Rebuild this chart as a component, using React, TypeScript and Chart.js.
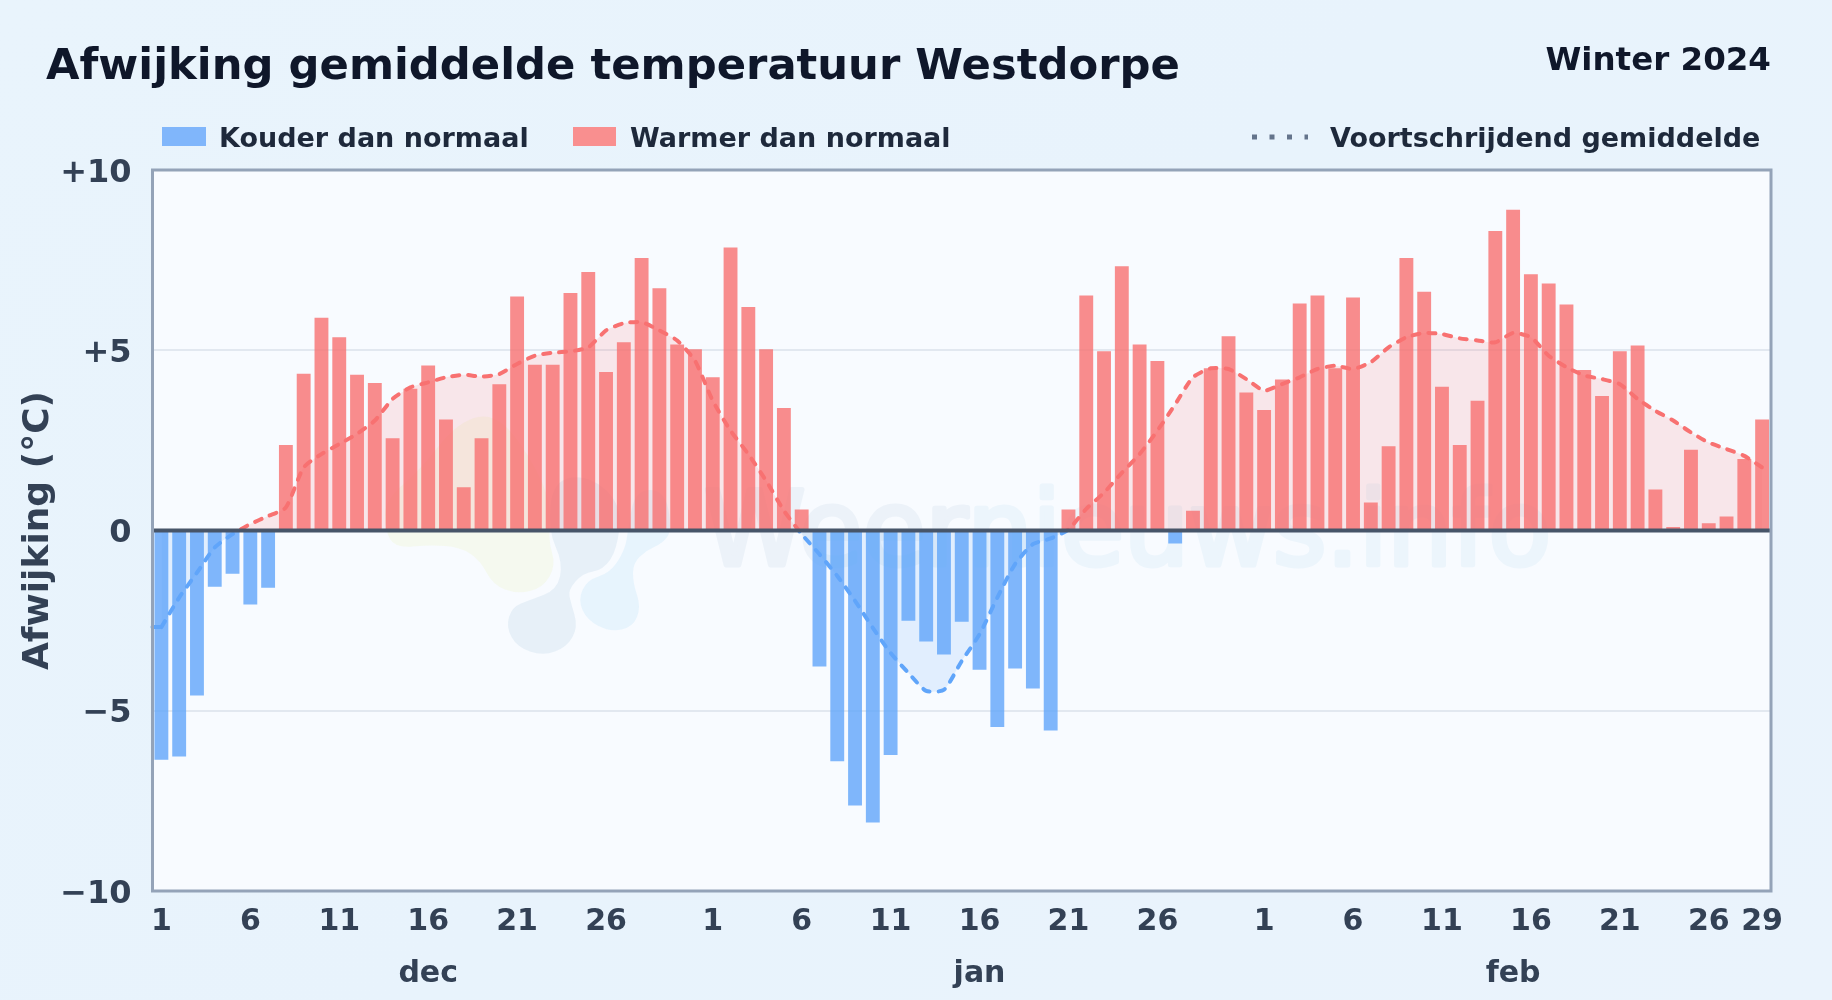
import React, { useEffect, useRef } from "react";
import { Chart, registerables } from "chart.js";

Chart.register(...registerables);

const decDeviation = [-6.36, -6.27, -4.58, -1.56, -1.2, -2.05, -1.59, 2.37, 4.35, 5.9, 5.36, 4.32, 4.09, 2.56, 3.93, 4.58, 3.08, 1.2, 2.56, 4.06, 6.49, 4.6, 4.6, 6.59, 7.17, 4.4, 5.22, 7.56, 6.72, 5.16, 5.03];
const janDeviation = [4.25, 7.85, 6.2, 5.03, 3.4, 0.58, -3.77, -6.4, -7.63, -8.1, -6.23, -2.5, -3.08, -3.44, -2.53, -3.86, -5.45, -3.83, -4.38, -5.55, 0.58, 6.52, 4.97, 7.33, 5.16, 4.7, -0.36, 0.55, 4.5, 5.39, 3.83];
const febDeviation = [3.34, 4.19, 6.3, 6.52, 4.5, 6.46, 0.78, 2.34, 7.56, 6.62, 3.99, 2.37, 3.6, 8.31, 8.9, 7.11, 6.85, 6.27, 4.45, 3.73, 4.97, 5.13, 1.14, 0.1, 2.24, 0.2, 0.39, 1.98, 3.08];

const decAverage = [-2.68, -1.86, -1.17, -0.47, -0.1, 0.18, 0.4, 0.64, 1.75, 2.12, 2.4, 2.68, 3.05, 3.65, 3.97, 4.11, 4.25, 4.32, 4.27, 4.34, 4.62, 4.85, 4.93, 4.97, 5.08, 5.55, 5.75, 5.78, 5.55, 5.27, 4.71];
const janAverage = [3.6, 2.77, 2.12, 1.38, 0.55, -0.1, -0.66, -1.26, -1.95, -2.7, -3.4, -3.95, -4.45, -4.42, -3.62, -2.88, -1.86, -0.93, -0.38, -0.22, 0.03, 0.6, 1.05, 1.6, 2.12, 2.77, 3.5, 4.25, 4.5, 4.48, 4.2];
const febAverage = [3.88, 4.06, 4.25, 4.48, 4.57, 4.48, 4.67, 5.08, 5.36, 5.48, 5.45, 5.33, 5.27, 5.22, 5.48, 5.36, 4.85, 4.53, 4.3, 4.2, 4.06, 3.65, 3.32, 3.05, 2.72, 2.44, 2.26, 2.07, 1.75];

const decTicks = [1, 6, 11, 16, 21, 26];
const janTicks = [1, 6, 11, 16, 21, 26];
const febTicks = [1, 6, 11, 16, 21, 26, 29];
const monthNames = ["dec", "jan", "feb"];

const titleText = "Afwijking gemiddelde temperatuur Westdorpe";
const periodText = "Winter 2024";
const coldLabel = "Kouder dan normaal";
const warmLabel = "Warmer dan normaal";
const averageLabel = "Voortschrijdend gemiddelde";
const axisTitle = "Afwijking (°C)";
const watermarkA = "Weer";
const watermarkB = "nieuws.info";

const FONT = "'DejaVu Sans', sans-serif";
const RED = "rgba(248,113,113,0.8)";
const BLUE = "rgba(96,165,250,0.8)";

const deviation = [...decDeviation, ...janDeviation, ...febDeviation];
const average = [...decAverage, ...janAverage, ...febAverage];
const labels = [...decDeviation.map((_, i) => i + 1), ...janDeviation.map((_, i) => i + 1), ...febDeviation.map((_, i) => i + 1)].map(String);
const shownTicks = [
  ...decDeviation.map((_, i) => decTicks.includes(i + 1)),
  ...janDeviation.map((_, i) => janTicks.includes(i + 1)),
  ...febDeviation.map((_, i) => febTicks.includes(i + 1)),
];
const monthSpans = [
  [0, decDeviation.length - 1],
  [decDeviation.length, decDeviation.length + janDeviation.length - 1],
  [decDeviation.length + janDeviation.length, deviation.length - 1],
];

function blob(c: CanvasRenderingContext2D, fill: string, pts: number[][]) {
  // smooth closed curve through the points of a watermark shape
  c.beginPath();
  const n = pts.length;
  c.moveTo((pts[n - 1][0] + pts[0][0]) / 2, (pts[n - 1][1] + pts[0][1]) / 2);
  for (let i = 0; i < n; i++) {
    const a = pts[i];
    const b = pts[(i + 1) % n];
    c.quadraticCurveTo(a[0], a[1], (a[0] + b[0]) / 2, (a[1] + b[1]) / 2);
  }
  c.closePath();
  c.fillStyle = fill;
  c.fill();
}

const backdropPlugin = {
  id: "backdrop",
  beforeDraw(chart: any) {
    const { ctx, chartArea: a } = chart;
    ctx.save();
    ctx.fillStyle = "#f8fbff";
    ctx.fillRect(a.left, a.top, a.right - a.left, a.bottom - a.top);
    ctx.restore();
  },
  beforeDatasetsDraw(chart: any) {
    const { ctx: c } = chart;
    c.save();
    blob(c, "rgba(244,249,238,0.95)", [
      [385, 530], [395, 548], [430, 545], [460, 547], [480, 560], [493, 585], [517, 594], [543, 588], [556, 565], [548, 540], [552, 500], [520, 440], [490, 412], [455, 425], [420, 470], [385, 500],
    ]);
    blob(c, "rgba(230,239,248,0.95)", [
      [548, 530], [553, 480], [590, 475], [622, 505], [617, 550], [603, 570], [583, 573], [568, 590], [571, 603], [578, 627], [567, 647], [543, 656], [517, 647], [506, 627], [512, 607], [530, 600], [557, 590], [563, 563],
    ]);
    blob(c, "rgba(230,243,253,0.95)", [
      [628, 530], [635, 490], [665, 490], [672, 530], [663, 543], [647, 550], [633, 563], [633, 583], [641, 607], [633, 627], [610, 632], [587, 620], [578, 600], [587, 580], [610, 573], [625, 550],
    ]);
    c.font = `102.5px ${FONT}`;
    c.textAlign = "left";
    c.textBaseline = "alphabetic";
    c.lineWidth = 5;
    c.lineJoin = "round";
    c.fillStyle = c.strokeStyle = "#ecf2f9";
    c.fillText(watermarkA, 704, 565);
    c.strokeText(watermarkA, 704, 565);
    const w = c.measureText(watermarkA).width;
    c.fillStyle = c.strokeStyle = "#ecf5fc";
    c.fillText(watermarkB, 704 + w, 565);
    c.strokeText(watermarkB, 704 + w, 565);
    c.restore();
  },
  afterDatasetsDraw(chart: any) {
    const { ctx: c, chartArea: a, scales } = chart;
    const y0 = scales.y.getPixelForValue(0);
    c.save();
    c.lineCap = "round";
    c.lineWidth = 4;
    c.strokeStyle = average[0] < 0 ? "#60a5fa" : "#f87171";
    c.beginPath();
    c.moveTo(a.left, scales.y.getPixelForValue(average[0]));
    c.lineTo(scales.x.getPixelForValue(0) - 2, scales.y.getPixelForValue(average[0]));
    c.stroke();
    c.restore();
    c.save();
    c.strokeStyle = "#475569";
    c.lineWidth = 4;
    c.beginPath();
    c.moveTo(a.left, y0);
    c.lineTo(a.right, y0);
    c.stroke();
    c.strokeStyle = "#94a3b8";
    c.lineWidth = 3;
    c.strokeRect(a.left, a.top, a.right - a.left, a.bottom - a.top);
    c.fillStyle = "#334155";
    c.font = `bold 30px ${FONT}`;
    c.textAlign = "center";
    c.textBaseline = "middle";
    monthNames.forEach((m, i) => {
      const x = (scales.x.getPixelForValue(monthSpans[i][0]) + scales.x.getPixelForValue(monthSpans[i][1])) / 2;
      c.fillText(m, x, 974);
    });
    c.restore();
  },
};

function lineStroke(ctx: any) {
  const chart = ctx.chart;
  const a = chart.chartArea;
  if (!a || !chart.scales.y) return "#f87171";
  const g = chart.ctx.createLinearGradient(0, a.top, 0, a.bottom);
  const f = (chart.scales.y.getPixelForValue(0) - a.top) / (a.bottom - a.top);
  g.addColorStop(0, "#f87171");
  g.addColorStop(f, "#f87171");
  g.addColorStop(f, "#60a5fa");
  g.addColorStop(1, "#60a5fa");
  return g;
}

export default function App() {
  const ref = useRef<HTMLCanvasElement>(null);
  useEffect(() => {
    const chart = new Chart(ref.current as HTMLCanvasElement, {
      type: "bar",
      plugins: [backdropPlugin],
      data: {
        labels,
        datasets: [
          {
            type: "line",
            label: averageLabel,
            data: average,
            order: 0,
            borderColor: lineStroke as any,
            borderWidth: 4,
            borderDash: [7, 9],
            borderCapStyle: "round",
            pointRadius: 0,
            tension: 0.2,
            fill: { target: "origin", above: "rgba(248,113,113,0.15)", below: "rgba(96,165,250,0.15)" },
          } as any,
          {
            type: "bar",
            label: warmLabel + " / " + coldLabel,
            data: deviation,
            order: 1,
            backgroundColor: (c: any) => (c.raw < 0 ? BLUE : RED),
            barPercentage: 0.78,
            categoryPercentage: 1,
          } as any,
        ],
      },
      options: {
        responsive: false,
        animation: false,
        devicePixelRatio: 1,
        layout: { padding: { top: 170, right: 61, left: 0, bottom: 0 } },
        plugins: { legend: { display: false }, tooltip: { enabled: false }, title: { display: false } },
        scales: {
          x: {
            afterFit: (s: any) => { s.height = 109; },
            grid: { display: false },
            border: { display: false },
            ticks: {
              autoSkip: false,
              maxRotation: 0,
              minRotation: 0,
              padding: 5,
              color: "#334155",
              font: { family: FONT, size: 30, weight: "bold" },
              callback: (_: any, i: number) => (shownTicks[i] ? labels[i] : ""),
            },
          },
          y: {
            min: -10,
            max: 10,
            afterFit: (s: any) => { s.width = 152.5; },
            grid: { color: (c: any) => (c.tick.value === 0 ? "rgba(0,0,0,0)" : "#e2e8f0"), lineWidth: 2, drawTicks: false },
            border: { display: false },
            title: {
              display: true,
              text: axisTitle,
              color: "#334155",
              font: { family: FONT, size: 36, weight: "bold" },
              padding: { top: 17, bottom: 0 },
            },
            ticks: {
              stepSize: 5,
              padding: 21,
              color: "#334155",
              font: { family: FONT, size: 32, weight: "bold", lineHeight: 0.2 },
              callback: (v: any) => ["", v > 0 ? "+" + v : v < 0 ? "\u2212" + Math.abs(v) : "0"],
            },
          },
        },
      } as any,
    });
    return () => chart.destroy();
  }, []);

  const text = (x: number, y: number, size: number, color: string, s: string, right = false) => (
    <div
      style={{
        position: "absolute",
        top: y,
        [right ? "right" : "left"]: right ? 1832 - x : x,
        fontFamily: FONT,
        fontWeight: 700,
        fontSize: size,
        lineHeight: "1",
        color,
        whiteSpace: "nowrap",
        transform: "translateY(-50%)",
      } as any}
    >
      {s}
    </div>
  );

  return (
    <div
      style={{
        position: "absolute",
        left: 0,
        top: 0,
        width: 1832,
        height: 1000,
        overflow: "hidden",
        background: "linear-gradient(135deg,#e9f4fc 0%,#e8f3fc 50%,#eaf3fc 100%)",
      }}
    >
      <canvas ref={ref} width={1832} height={1000} style={{ position: "absolute", left: 0, top: 0, width: 1832, height: 1000 }} />
      {text(46, 65, 43.3, "#0f172a", titleText)}
      {text(1771, 59, 32.5, "#0f172a", periodText, true)}
      <div style={{ position: "absolute", left: 162, top: 127, width: 44, height: 19, background: "#80b6fb" }} />
      {text(219, 137, 27, "#1e293b", coldLabel)}
      <div style={{ position: "absolute", left: 573, top: 127, width: 43, height: 19, background: "#f98f8f" }} />
      {text(630, 137, 27, "#1e293b", warmLabel)}
      <svg style={{ position: "absolute", left: 1250, top: 130, width: 60, height: 14 }}>
        <line x1={2} y1={7} x2={58} y2={7} stroke="#64748b" strokeWidth={5} strokeDasharray="5 12.5" />
      </svg>
      {text(1330, 137, 27, "#1e293b", averageLabel)}
    </div>
  );
}
